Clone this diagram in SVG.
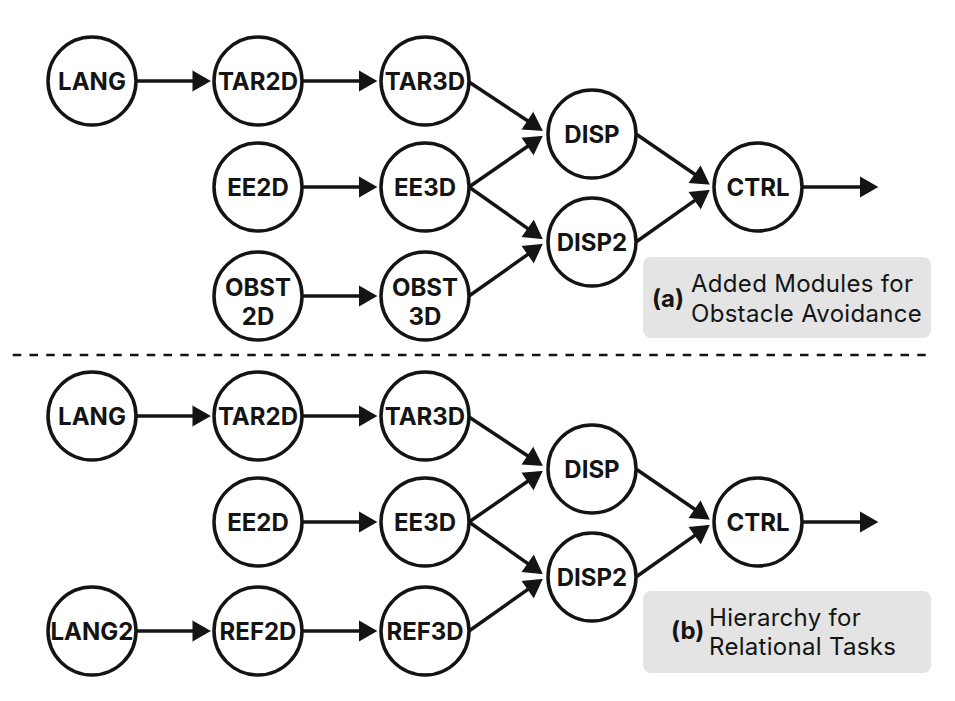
<svg xmlns="http://www.w3.org/2000/svg" width="955" height="701" viewBox="0 0 955 701">
<style>
.n circle{fill:#fff;stroke:#141414;stroke-width:3.5}
.n text{font-family:Inter,"Liberation Sans",sans-serif;font-weight:700;font-size:24px;fill:#141414;text-anchor:middle}
.c line{stroke:#141414;stroke-width:3.5;marker-end:url(#ah)}
.box{fill:#e3e4e3}
.lb{font-family:Inter,"Liberation Sans",sans-serif;font-size:24px;letter-spacing:0.3px;fill:#141414}
.lb .b{font-weight:700;letter-spacing:0}
</style>
<defs>
<marker id="ah" markerUnits="userSpaceOnUse" viewBox="-2 -13 24 26" markerWidth="24" markerHeight="26" refX="2" refY="0" orient="auto">
<path d="M0,-11.5 L20,0 L0,11.5" fill="#141414" stroke="#fff" stroke-width="1.5" stroke-linejoin="round"/>
</marker>
</defs>
<rect width="955" height="701" fill="#fff"/>
<line x1="9" y1="355" x2="931" y2="355" stroke="#141414" stroke-width="2.5" stroke-dasharray="8.5 8.25" stroke-dashoffset="-3.75"/>

<g id="panel-a">
<g class="c" id="connectors-a">
<line x1="136" y1="81" x2="194.5" y2="81"/>
<line x1="302" y1="81" x2="361" y2="81"/>
<line x1="302" y1="187" x2="361" y2="187"/>
<line x1="302" y1="296" x2="361" y2="296"/>
<line x1="469" y1="82" x2="529.1" y2="121.8"/>
<line x1="469" y1="187" x2="529.2" y2="145.3"/>
<line x1="469" y1="187" x2="529.3" y2="229.6"/>
<line x1="469" y1="296" x2="529.3" y2="253.4"/>
<line x1="636" y1="134" x2="696.2" y2="175.3"/>
<line x1="636" y1="242" x2="696.3" y2="199.4"/>
<line x1="802" y1="187" x2="862" y2="187"/>
</g>
<g class="n" id="a-lang"><circle cx="92" cy="81" r="44"/><text x="92" y="90">LANG</text></g>
<g class="n" id="a-tar2d"><circle cx="258" cy="81" r="44"/><text x="258" y="90">TAR2D</text></g>
<g class="n" id="a-tar3d"><circle cx="425" cy="81" r="44"/><text x="425" y="90">TAR3D</text></g>
<g class="n" id="a-ee2d"><circle cx="258" cy="187" r="44"/><text x="258" y="196">EE2D</text></g>
<g class="n" id="a-ee3d"><circle cx="425" cy="187" r="44"/><text x="425" y="196">EE3D</text></g>
<g class="n" id="a-obst2d"><circle cx="258" cy="296" r="44"/><text x="258" y="295.5">OBST</text><text x="258" y="325">2D</text></g>
<g class="n" id="a-obst3d"><circle cx="425" cy="296" r="44"/><text x="425" y="295.5">OBST</text><text x="425" y="325">3D</text></g>
<g class="n" id="a-disp"><circle cx="592" cy="134" r="44"/><text x="592" y="143">DISP</text></g>
<g class="n" id="a-disp2"><circle cx="592" cy="242" r="44"/><text x="592" y="251">DISP2</text></g>
<g class="n" id="a-ctrl"><circle cx="758" cy="187" r="44"/><text x="758" y="196">CTRL</text></g>
<g id="a-label">
<rect class="box" x="643" y="257" width="288" height="81" rx="8"/>
<text class="lb" x="652" y="307"><tspan class="b">(a)</tspan></text>
<text class="lb" x="691" y="292">Added Modules for</text>
<text class="lb" x="691" y="322">Obstacle Avoidance</text>
</g>
</g>

<g id="panel-b" transform="translate(0,335)">
<g class="c" id="connectors-b">
<line x1="136" y1="81" x2="194.5" y2="81"/>
<line x1="302" y1="81" x2="361" y2="81"/>
<line x1="302" y1="187" x2="361" y2="187"/>
<line x1="136" y1="296" x2="194.5" y2="296"/>
<line x1="302" y1="296" x2="361" y2="296"/>
<line x1="469" y1="82" x2="529.1" y2="121.8"/>
<line x1="469" y1="187" x2="529.2" y2="145.3"/>
<line x1="469" y1="187" x2="529.3" y2="229.6"/>
<line x1="469" y1="296" x2="529.3" y2="253.4"/>
<line x1="636" y1="134" x2="696.2" y2="175.3"/>
<line x1="636" y1="242" x2="696.3" y2="199.4"/>
<line x1="802" y1="187" x2="862" y2="187"/>
</g>
<g class="n" id="b-lang"><circle cx="92" cy="81" r="44"/><text x="92" y="90">LANG</text></g>
<g class="n" id="b-tar2d"><circle cx="258" cy="81" r="44"/><text x="258" y="90">TAR2D</text></g>
<g class="n" id="b-tar3d"><circle cx="425" cy="81" r="44"/><text x="425" y="90">TAR3D</text></g>
<g class="n" id="b-ee2d"><circle cx="258" cy="187" r="44"/><text x="258" y="196">EE2D</text></g>
<g class="n" id="b-ee3d"><circle cx="425" cy="187" r="44"/><text x="425" y="196">EE3D</text></g>
<g class="n" id="b-lang2"><circle cx="92" cy="296" r="44"/><text x="92" y="305">LANG2</text></g>
<g class="n" id="b-ref2d"><circle cx="258" cy="296" r="44"/><text x="258" y="305">REF2D</text></g>
<g class="n" id="b-ref3d"><circle cx="425" cy="296" r="44"/><text x="425" y="305">REF3D</text></g>
<g class="n" id="b-disp"><circle cx="592" cy="134" r="44"/><text x="592" y="143">DISP</text></g>
<g class="n" id="b-disp2"><circle cx="592" cy="242" r="44"/><text x="592" y="251">DISP2</text></g>
<g class="n" id="b-ctrl"><circle cx="758" cy="187" r="44"/><text x="758" y="196">CTRL</text></g>
<g id="b-label">
<rect class="box" x="643" y="256" width="288" height="82" rx="8"/>
<text class="lb" x="671" y="304"><tspan class="b">(b)</tspan></text>
<text class="lb" x="709" y="291">Hierarchy for</text>
<text class="lb" x="709" y="320">Relational Tasks</text>
</g>
</g>
</svg>
